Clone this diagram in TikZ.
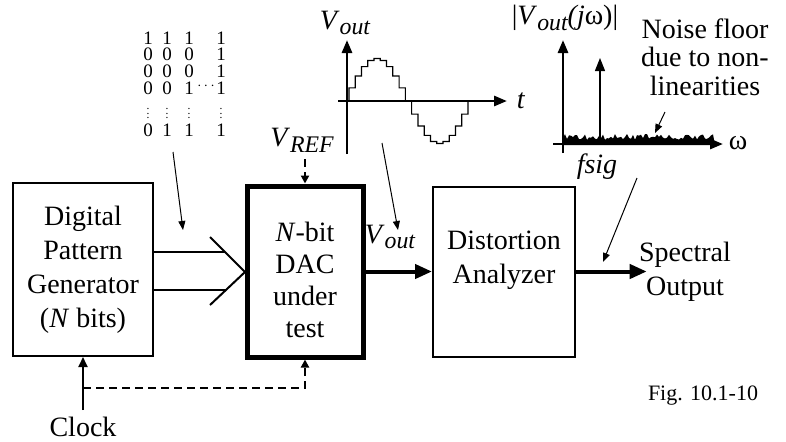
\documentclass[tikz,border=0pt]{standalone}
\usepackage{fontspec}
\setmainfont{Liberation Serif}
\usetikzlibrary{arrows.meta, positioning}
\newcommand\lowsub[1]{\raisebox{-0.45ex}{\scalebox{0.85}{\itshape #1}}}

\begin{document}
\begin{tikzpicture}[x=0.5pt, y=-0.5pt,
    font=\fontsize{14}{17}\selectfont,
    blk/.style={draw, line width=1pt, align=center, inner sep=0pt},
    thinarr/.style={-{Triangle[length=4.5pt, width=3.5pt]}, line width=0.5pt},
    bigarr/.style={-{Triangle[length=8.5pt, width=7pt]}, line width=2pt},
    axisarr/.style={-{Triangle[length=6.5pt, width=5pt]}, line width=1.4pt},
    dasharr/.style={-{Triangle[length=4pt, width=4pt]}, line width=1pt, dash pattern=on 4pt off 2.5pt},
    bit/.style={font=\fontsize{9.5}{9.5}\selectfont, inner sep=0pt}]
    \useasboundingbox (0,0) rectangle (786,441);

    % 1. Các khối
    \node[blk, minimum width=70pt, minimum height=86.5pt] (gen) at (83,269.5)
        {Digital\\Pattern\\Generator\\(\textit{N} bits)};
    \node[blk, line width=2.5pt, minimum width=58pt, minimum height=85.5pt,
        label={[align=center, yshift=-4pt, font=\fontsize{14}{16}\selectfont]center:{\textit{N}-bit\\DAC\\under\\test}}]
        (dac) at (305,271.5) {};
    \node[blk, minimum width=71pt, minimum height=85pt,
        label={[align=center, yshift=5.5pt]center:{Distortion\\Analyzer}}]
        (dist) at (504,271.5) {};
    \node[align=center, inner sep=0pt] (spec) at (685,271.5) {Spectral\\Output};
    \node (clk) at (83,427) {Clock};
    \node (vref) at (302,140) {\textit{V}\lowsub{REF}};
    \node (vout) at (390,237) {\textit{V}\lowsub{out}};
    \node[font=\fontsize{11}{13}\selectfont] (fig) at (703,396) {Fig. 10.1-10};

    % 2. Bus N bit
    \coordinate (bustip) at (245,272);
    \draw[line width=1pt] (210,237) -- (bustip) -- (210,305);
    \coordinate (busa) at (gen.east |- 0,252);
    \coordinate (busb) at (gen.east |- 0,290);
    \draw[line width=1pt] (busa) -- (225,252);
    \draw[line width=1pt] (busb) -- (226,290);

    % 3. Các mũi tên tín hiệu
    \draw[bigarr] (dac.east) -- (dist.west);
    \draw[bigarr] (dist.east) -- ([xshift=4pt]spec.west);
    \draw[axisarr, line width=1pt, -{Triangle[length=5pt, width=4.5pt]}] (clk) -- (gen);
    \coordinate (tap) at (83,388);
    \draw[dasharr] (tap) -| (dac.south);
    \draw[dasharr] (vref.south -| dac.north) -- (dac.north);

    % 4. Ma trận bit
    \foreach \a/\b/\c/\d [count=\r] in {1/1/1/1, 0/0/0/1, 0/0/0/1, 0/0/1/1} {
        \node[bit] at (148,{38+16.7*(\r-1)}) {\a};
        \node[bit] at (167,{38+16.7*(\r-1)}) {\b};
        \node[bit] at (189,{38+16.7*(\r-1)}) {\c};
        \node[bit] at (221,{38+16.7*(\r-1)}) {\d};
    }
    \node[bit] at (206,86) {\scalebox{0.8}{$\cdots$}};
    \foreach \x/\v in {148/0, 167/1, 189/1, 221/1} {
        \node[bit] at (\x,110) {\scalebox{0.6}{$\vdots$}};
        \node[bit] at (\x,130) {\v};
    }

    % 5. Dạng sóng V_out
    \draw[axisarr] (347,154) -- (347,40);
    \draw[axisarr] (338,101) -- (507,101);
    \node (vt) at (345,23) {\textit{V}\lowsub{out}};
    \node (tl) at (521,101) {\textit{t}};
    \draw[line width=0.6pt] (349,101)
        \foreach \k in {0,...,18} {
            -- ({349+\k*6.263},{101-42.5*sin(18*(\k+1))})
            -- ({349+(\k+1)*6.263},{101-42.5*sin(18*(\k+1))})
        } -- (468,101);

    % 6. Phổ
    \pgfmathsetseed{42}
    \fill (563,145) \foreach \i in {0,...,75} {
            -- ({563+2*\i},{140-6*rnd})
        } -- (715,145) -- cycle;
    \draw[axisarr] (563,153) -- (563,40);
    \draw[axisarr] (553,144) -- (723,144);
    \draw[axisarr, line width=0.6pt] (600,144) -- (600,58);
    \node (spl) at (565,18) {|\textit{V}\lowsub{out}\textit{(j}ω)|};
    \node (omg) at (738,143) {ω};
    \node (fsig) at (597,167) {\textit{fsig}};
    \node[align=center, font=\fontsize{14}{14.3}\selectfont] (noise) at (705,57)
        {Noise floor\\due to non-\\linearities};

    % 7. Mũi tên chú thích
    \coordinate (bitsptr) at (173,152);
    \coordinate (busmark) at (183,230);
    \draw[thinarr] (bitsptr) -- (busmark);
    \coordinate (waveptr) at (382,143);
    \coordinate (voutmark) at (398,230);
    \draw[thinarr] (waveptr) -- (voutmark);
    \coordinate (specptr) at (637,178);
    \coordinate (specmark) at (603,262);
    \draw[thinarr] (specptr) -- (specmark);
    \coordinate (noiseptr) at (665,112);
    \coordinate (noisemark) at (655,133);
    \draw[thinarr] (noiseptr) -- (noisemark);
\end{tikzpicture}
\end{document}
